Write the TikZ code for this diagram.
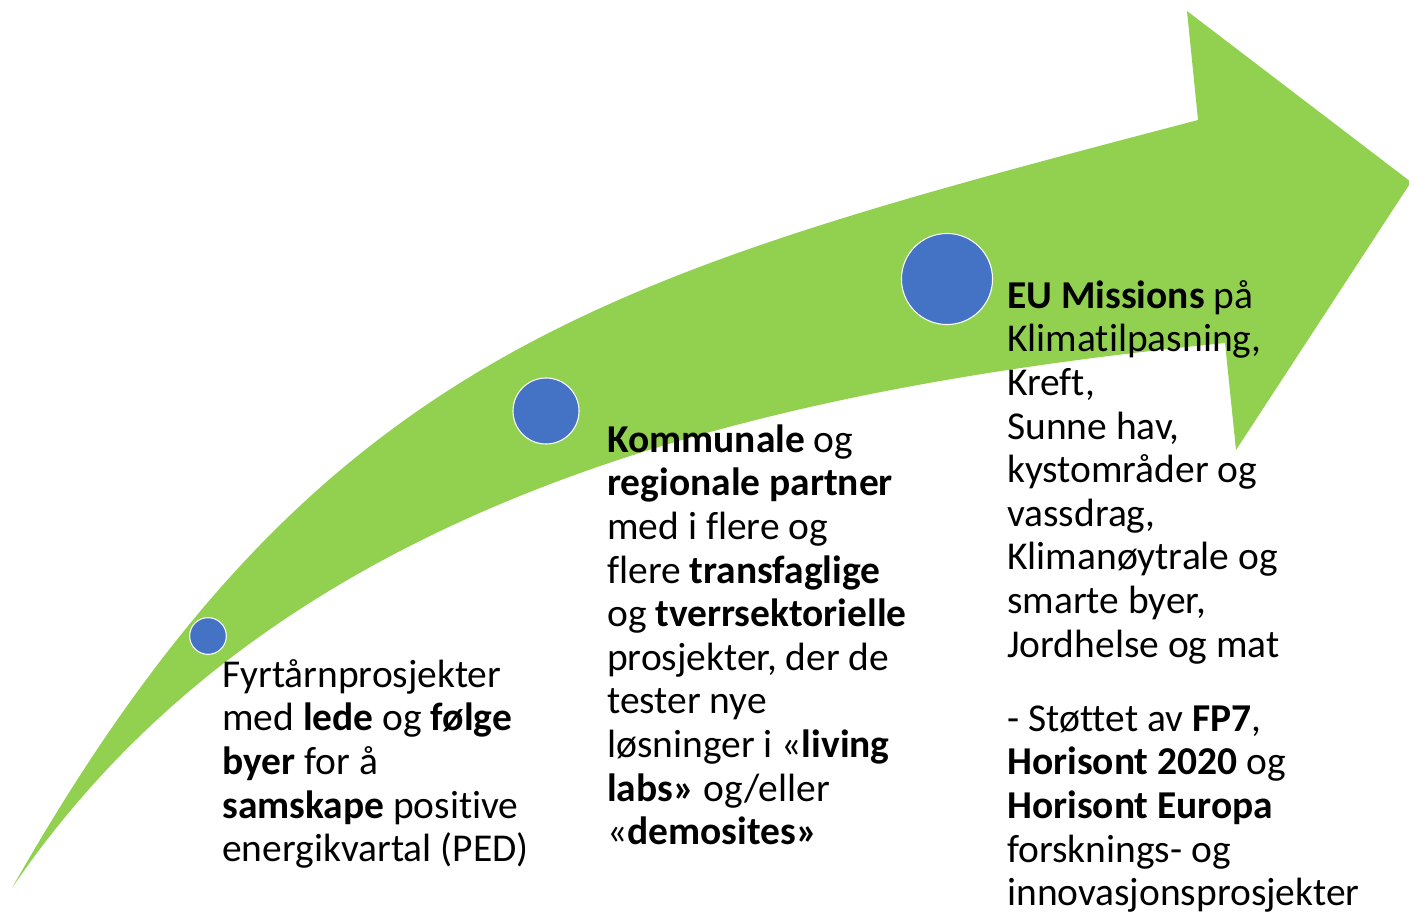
\documentclass[tikz,border=0pt]{standalone}
\usepackage{fontspec}
\setmainfont{Carlito}[Ligatures=NoCommon]
\definecolor{arrowgreen}{HTML}{92D050}
\definecolor{dotblue}{HTML}{4472C4}
\newcommand{\topstrut}{\rule{0pt}{26pt}}
\begin{document}
\begin{tikzpicture}[x=0.75pt,y=-0.75pt,
  dot/.style={circle,fill=dotblue,draw=white,line width=0.8pt,inner sep=0pt},
  txt/.style={anchor=north west,inner sep=0pt,align=left,font=\fontsize{29.6}{32.7}\selectfont}]
\useasboundingbox (0,0) rectangle (1409,913);
\fill[arrowgreen] (12,888) .. controls (318,349) and (608,275) .. (1198,120)
  -- (1187,11) -- (1411,182) -- (1236,450) -- (1225,343)
  .. controls (777,388) and (282,491) .. (12,888) -- cycle;
\node[dot,minimum size=27.5pt] (d1) at (208,636) {};
\node[dot,minimum size=49.5pt] (d2) at (546,411) {};
\node[dot,minimum size=68.3pt] (d3) at (947,279) {};
\node[txt] (t1) at (222,652.3) {\topstrut Fyrtårnprosjekter\\ med \textbf{lede} og \textbf{følge}\\ \textbf{byer} for å\\ \textbf{samskape} positive\\ energikvartal (PED)};
\node[txt] (t2) at (607,417.3) {\topstrut\textbf{Kommunale} og\\ \textbf{regionale partner}\\ med i flere og\\ flere \textbf{transfaglige}\\ og \textbf{tverrsektorielle}\\ prosjekter, der de\\ tester nye\\ løsninger i «\textbf{living}\\ \textbf{labs»} og/eller\\ «\textbf{demosites»}};
\node[txt] (t3) at (1007,273.3) {\topstrut\textbf{EU Missions} på\\ Klimatilpasning,\\ Kreft,\\ Sunne hav,\\ kystområder og\\ vassdrag,\\ Klimanøytrale og\\ smarte byer,\\ Jordhelse og mat\\[23pt] - Støttet av \textbf{FP7},\\ \textbf{Horisont 2020} og\\ \textbf{Horisont Europa}\\ forsknings- og\\ innovasjonsprosjekter};
\end{tikzpicture}
\end{document}
